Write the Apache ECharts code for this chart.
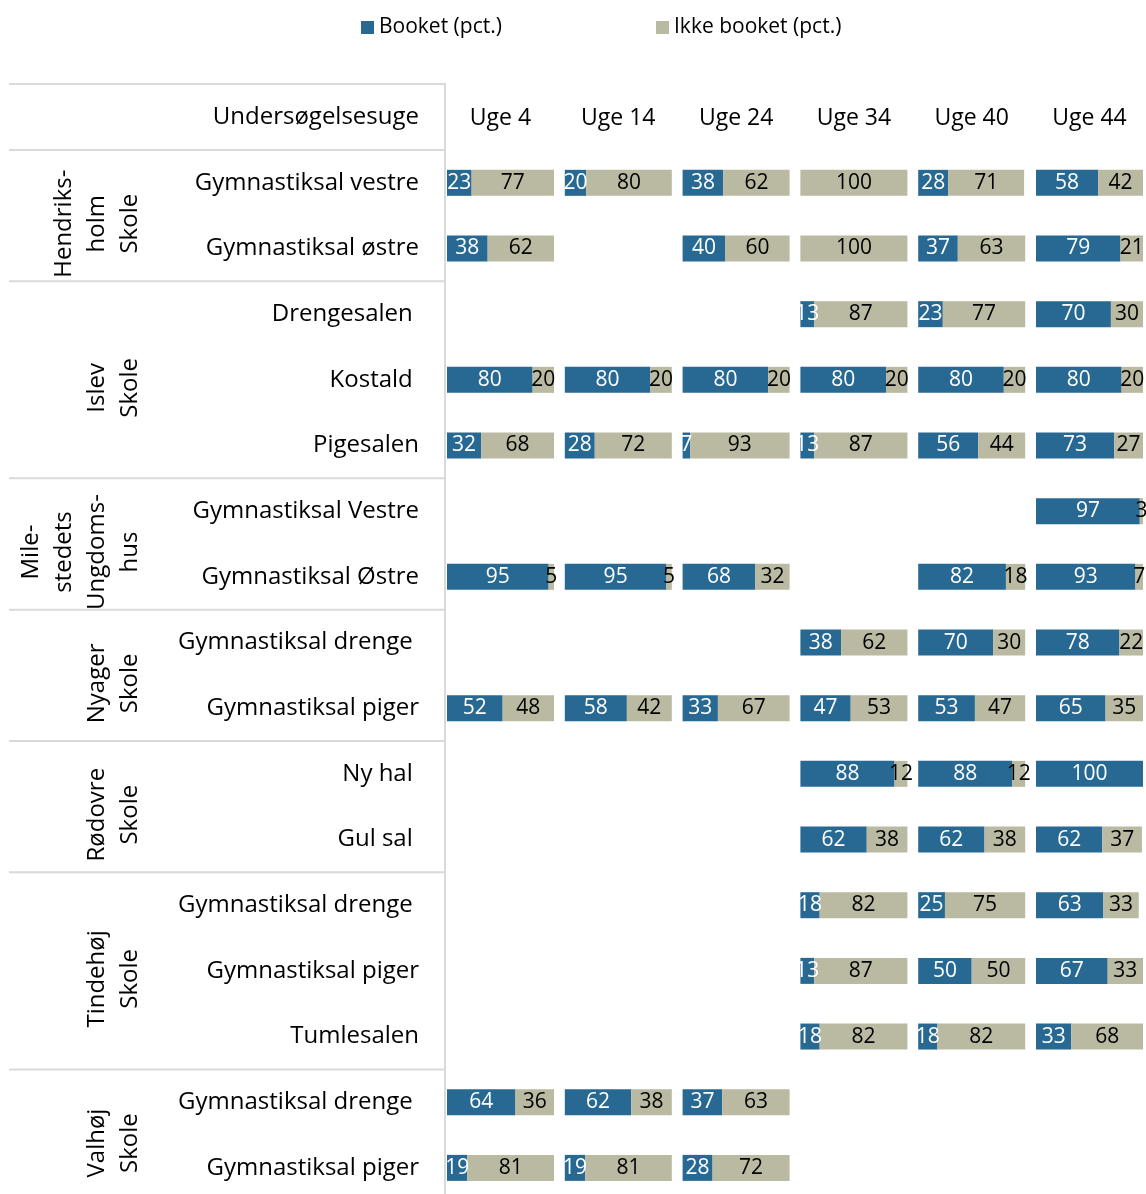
<!DOCTYPE html>
<html>
<head>
<meta charset="utf-8">
<script src="https://cdn.jsdelivr.net/npm/echarts@6/dist/echarts.min.js"></script>
<style>
  html, body { margin: 0; padding: 0; background: #fff; overflow: hidden; }
  #chart { width: 1146px; height: 1202px; }
</style>
</head>
<body>
<div id="chart"></div>
<script>
// haller (trailing space mimics the original alignment)
const halls = [
  'Gymnastiksal vestre', 'Gymnastiksal østre',
  'Drengesalen ', 'Kostald ', 'Pigesalen',
  'Gymnastiksal Vestre', 'Gymnastiksal Østre',
  'Gymnastiksal drenge ', 'Gymnastiksal piger',
  'Ny hal ', 'Gul sal ',
  'Gymnastiksal drenge ', 'Gymnastiksal piger', 'Tumlesalen',
  'Gymnastiksal drenge ', 'Gymnastiksal piger'
]
const schools = ['Hendriks-\nholm\nSkole', 'Islev\nSkole', 'Mile-\nstedets\nUngdoms-\nhus', 'Nyager\nSkole', 'Rødovre\nSkole', 'Tindehøj\nSkole', 'Valhøj\nSkole']
const schoolSizes = [2, 3, 2, 2, 2, 3, 2]
const weeks = ['Uge 4', 'Uge 14', 'Uge 24', 'Uge 34', 'Uge 40', 'Uge 44']

const uge4Booket  = [23, 38, null, 80, 32, null, 95, null, 52, null, null, null, null, null, 64, 19]
const uge4Ikke    = [77, 62, null, 20, 68, null, 5, null, 48, null, null, null, null, null, 36, 81]
const uge14Booket = [20, null, null, 80, 28, null, 95, null, 58, null, null, null, null, null, 62, 19]
const uge14Ikke   = [80, null, null, 20, 72, null, 5, null, 42, null, null, null, null, null, 38, 81]
const uge24Booket = [38, 40, null, 80, 7, null, 68, null, 33, null, null, null, null, null, 37, 28]
const uge24Ikke   = [62, 60, null, 20, 93, null, 32, null, 67, null, null, null, null, null, 63, 72]
const uge34Booket = [0, 0, 13, 80, 13, null, null, 38, 47, 88, 62, 18, 13, 18, null, null]
const uge34Ikke   = [100, 100, 87, 20, 87, null, null, 62, 53, 12, 38, 82, 87, 82, null, null]
const uge40Booket = [28, 37, 23, 80, 56, null, 82, 70, 53, 88, 62, 25, 50, 18, null, null]
const uge40Ikke   = [71, 63, 77, 20, 44, null, 18, 30, 47, 12, 38, 75, 50, 82, null, null]
const uge44Booket = [58, 79, 70, 80, 73, 97, 93, 78, 65, 100, 62, 63, 67, 33, null, null]
const uge44Ikke   = [42, 21, 30, 20, 27, 3, 7, 22, 35, 0, 37, 33, 33, 68, null, null]

const booket = [uge4Booket, uge14Booket, uge24Booket, uge34Booket, uge40Booket, uge44Booket]
const ikke = [uge4Ikke, uge14Ikke, uge24Ikke, uge34Ikke, uge40Ikke, uge44Ikke]

const FONT = 'Open Sans'
const BLUE = '#276992'
const BEIGE = '#BAB9A1'
const LINE = '#d9d9d9'

const gridTop = 150
const rowH = 65.67
const colLeft = 447
const colStep = 117.8
const colW = 107

const grids = [], xAxes = [], yAxes = [], series = []
weeks.forEach((w, i) => {
  grids.push({ left: colLeft + i * colStep, top: gridTop, width: colW, height: rowH * halls.length })
  xAxes.push({
    gridIndex: i, type: 'value', min: 0, max: 100, position: 'top',
    name: w, nameLocation: 'middle', nameGap: 20,
    nameTextStyle: { fontFamily: FONT, fontSize: 23, color: '#000' },
    axisLine: { show: false }, axisTick: { show: false },
    axisLabel: { show: false }, splitLine: { show: false }
  })
  yAxes.push({
    gridIndex: i, type: 'category', inverse: true, data: halls,
    axisLine: { show: false }, axisTick: { show: false },
    axisLabel: {
      show: i === 0, margin: 28, fontFamily: FONT, fontSize: 24, color: '#000'
    }
  })
  const lbl = (color) => ({
    show: true, position: 'inside', color: color, fontFamily: FONT, fontSize: 21,
    formatter: (p) => (p.value ? String(p.value) : '')
  })
  series.push({
    name: 'Booket (pct.)', type: 'bar', stack: 'w' + i,
    xAxisIndex: i, yAxisIndex: i, barWidth: 26,
    itemStyle: { color: BLUE }, label: lbl('#fff'), data: booket[i]
  })
  series.push({
    name: 'Ikke booket (pct.)', type: 'bar', stack: 'w' + i,
    xAxisIndex: i, yAxisIndex: i, barWidth: 26,
    itemStyle: { color: BEIGE }, label: lbl('#000'), data: ikke[i]
  })
})

// table lines and school labels
const graphics = []
const lineStyle = { stroke: LINE, lineWidth: 2 }
graphics.push({ type: 'line', shape: { x1: 445, y1: 83, x2: 445, y2: 1202 }, style: lineStyle, silent: true })
graphics.push({ type: 'line', shape: { x1: 9, y1: 84, x2: 445, y2: 84 }, style: lineStyle, silent: true })
graphics.push({
  type: 'text', x: 419, y: 117,
  style: { text: 'Undersøgelsesuge', font: '24px "' + FONT + '"', fill: '#000', align: 'right', verticalAlign: 'middle' }
})
let start = 0
schools.forEach((s, k) => {
  const yTop = gridTop + start * rowH
  graphics.push({ type: 'line', shape: { x1: 9, y1: yTop, x2: 445, y2: yTop }, style: lineStyle, silent: true })
  const yc = gridTop + (start + schoolSizes[k] / 2) * rowH + 8
  graphics.push({
    type: 'text', x: 147, y: yc, rotation: Math.PI / 2,
    style: { text: s, font: '24px "' + FONT + '"', fill: '#000', align: 'center', verticalAlign: 'bottom', lineHeight: 33 }
  })
  start += schoolSizes[k]
})

const chart = echarts.init(document.getElementById('chart'))
chart.setOption({
  animation: false,
  legend: [
    { data: ['Booket (pct.)'], left: 356, top: 12, itemWidth: 13, itemHeight: 13, icon: 'rect', itemGap: 5,
      textStyle: { fontFamily: FONT, fontSize: 21, color: '#000' } },
    { data: ['Ikke booket (pct.)'], left: 651, top: 12, itemWidth: 13, itemHeight: 13, icon: 'rect', itemGap: 5,
      textStyle: { fontFamily: FONT, fontSize: 21, color: '#000' } }
  ],
  grid: grids,
  xAxis: xAxes,
  yAxis: yAxes,
  series: series,
  graphic: graphics
})
</script>
</body>
</html>
